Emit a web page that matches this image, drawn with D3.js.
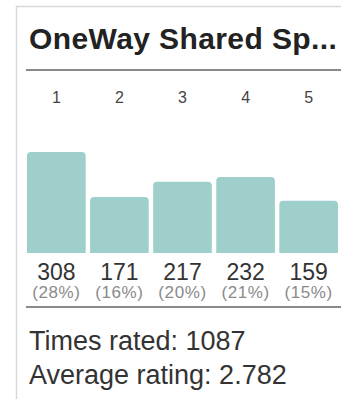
<!DOCTYPE html>
<html>
<head>
<meta charset="utf-8">
<script src="https://cdn.jsdelivr.net/npm/d3@7/dist/d3.min.js"></script>
<style>
  html, body { margin: 0; padding: 0; background: #fff; }
  svg { display: block; font-family: "Liberation Sans", Arial, sans-serif; }
</style>
</head>
<body>
<svg id="chart" width="341" height="399"></svg>
<script>
// Rating distribution for one item
const title = "OneWay Shared Sp...";
const ratings = ["1", "2", "3", "4", "5"];
const counts = [308, 171, 217, 232, 159];
const percents = ["(28%)", "(16%)", "(20%)", "(21%)", "(15%)"];
const timesRated = 1087;
const averageRating = "2.782";

const svg = d3.select("#chart");

// card frame (top and left edges)
svg.append("path")
  .attr("d", "M16.5,399 V6.5 H341")
  .attr("fill", "none")
  .attr("stroke", "#d8d8d8")
  .attr("stroke-width", 1.5);

svg.append("text")
  .attr("x", 29).attr("y", 49)
  .attr("font-size", 30).attr("font-weight", "bold")
  .attr("letter-spacing", 0.4)
  .attr("fill", "#222")
  .text(title);

svg.append("line")
  .attr("x1", 26).attr("x2", 341)
  .attr("y1", 70).attr("y2", 70)
  .attr("stroke", "#8a8a8a").attr("stroke-width", 2);

const x = d3.scaleBand().domain(ratings).range([27, 338]).paddingInner(0.07).paddingOuter(0);
const y = d3.scaleLinear().domain([0, d3.max(counts)]).range([253, 152]);

const data = ratings.map((r, i) => ({ r, c: counts[i], p: percents[i] }));

// rating numbers above the bars
svg.append("g").selectAll("text").data(data).join("text")
  .attr("x", d => x(d.r) + x.bandwidth() / 2)
  .attr("y", 103)
  .attr("text-anchor", "middle")
  .attr("font-size", 16)
  .attr("fill", "#444")
  .text(d => d.r);

// bars with rounded top corners
const rad = 4;
svg.append("g").selectAll("path").data(data).join("path")
  .attr("fill", "#9fcfcb")
  .attr("d", d => {
    const x0 = x(d.r), w = x.bandwidth(), y0 = y(d.c), y1 = y(0);
    return `M${x0},${y1} V${y0 + rad} Q${x0},${y0} ${x0 + rad},${y0} H${x0 + w - rad} Q${x0 + w},${y0} ${x0 + w},${y0 + rad} V${y1} Z`;
  });

// counts
svg.append("g").selectAll("text").data(data).join("text")
  .attr("x", d => x(d.r) + x.bandwidth() / 2)
  .attr("y", 280)
  .attr("text-anchor", "middle")
  .attr("font-size", 23)
  .attr("fill", "#333")
  .text(d => d.c);

// percentages
svg.append("g").selectAll("text").data(data).join("text")
  .attr("x", d => x(d.r) + x.bandwidth() / 2)
  .attr("y", 298)
  .attr("text-anchor", "middle")
  .attr("font-size", 17)
  .attr("letter-spacing", 0.6)
  .attr("fill", "#8a8a8a")
  .text(d => d.p);

svg.append("line")
  .attr("x1", 26).attr("x2", 341)
  .attr("y1", 307).attr("y2", 307)
  .attr("stroke", "#8a8a8a").attr("stroke-width", 2);

svg.append("text")
  .attr("x", 29).attr("y", 350)
  .attr("font-size", 27).attr("fill", "#333")
  .text(`Times rated: ${timesRated}`);

svg.append("text")
  .attr("x", 29).attr("y", 384)
  .attr("font-size", 27).attr("fill", "#333")
  .text(`Average rating: ${averageRating}`);
</script>
</body>
</html>
